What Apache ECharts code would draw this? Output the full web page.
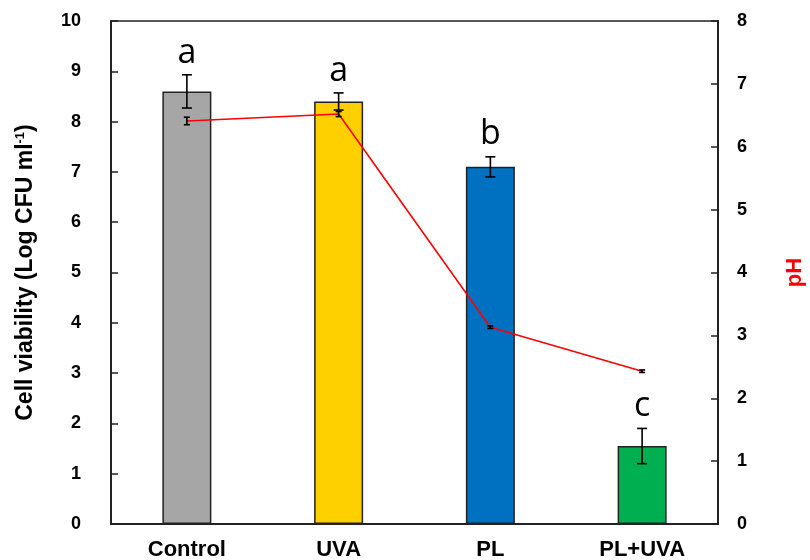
<!DOCTYPE html>
<html>
<head>
<meta charset="utf-8">
<script src="https://cdn.jsdelivr.net/npm/echarts@6/dist/echarts.min.js"></script>
<style>html,body{margin:0;padding:0;background:#fff}#c{width:810px;height:560px}</style>
</head>
<body>
<div id="c"></div>
<script>
const categories = ['Control', 'UVA', 'PL', 'PL+UVA'];
const viability = [8.6, 8.4, 7.1, 1.55];
const viabilityErr = [0.33, 0.17, 0.2, 0.35];
const ph = [6.41, 6.52, 3.13, 2.43];
const phErr = [0.06, 0.04, 0.02, 0.02];
const letters = ['a', 'a', 'b', 'c'];
const leftTicks = [0, 10, 1];
const rightTicks = [0, 8, 1];

const barColors = ['#A6A6A6', '#FFD000', '#0070C0', '#00B050'];
const chart = echarts.init(document.getElementById('c'), null, {renderer: 'canvas'});

const errData = (vals, errs) => vals.map((v, i) => [i, v - errs[i], v + errs[i], letters[i]]);

function makeErr(capW, withLetters) {
  return function (params, api) {
    const lo = api.coord([api.value(0), api.value(1)]);
    const hi = api.coord([api.value(0), api.value(2)]);
    const x = lo[0];
    const st = {stroke: '#000', lineWidth: 1.6};
    const ch = [
      {type: 'line', shape: {x1: x, y1: lo[1], x2: x, y2: hi[1]}, style: st},
      {type: 'line', shape: {x1: x - capW, y1: lo[1], x2: x + capW, y2: lo[1]}, style: st},
      {type: 'line', shape: {x1: x - capW, y1: hi[1], x2: x + capW, y2: hi[1]}, style: st}
    ];
    if (withLetters) {
      ch.push({type: 'text', x: x, y: hi[1] - 5, style: {
        text: api.value(3), fill: '#000', font: '34px "Open Sans", sans-serif',
        textAlign: 'center', textVerticalAlign: 'bottom'}});
    }
    return {type: 'group', children: ch};
  };
}

const tickFont = {fontFamily: 'Liberation Sans', fontWeight: 'bold', fontSize: 18, color: '#000'};
const catFont = {fontFamily: 'Liberation Sans', fontWeight: 'bold', fontSize: 22, color: '#000'};

chart.setOption({
  animation: false,
  grid: {left: 111, right: 92, top: 21, bottom: 36, outerBoundsMode: 'none', containLabel: false,
    show: true, borderColor: '#222', borderWidth: 1.5, backgroundColor: 'transparent'},
  xAxis: {
    type: 'category', data: categories,
    axisLine: {lineStyle: {color: '#222', width: 2}},
    axisTick: {show: false},
    axisLabel: Object.assign({margin: 15}, catFont)
  },
  yAxis: [{
    type: 'value', min: leftTicks[0], max: leftTicks[1], interval: leftTicks[2],
    axisLine: {show: true, lineStyle: {color: '#222', width: 2}},
    axisTick: {show: true, inside: true, length: 7, lineStyle: {color: '#222', width: 1.5}},
    splitLine: {show: false},
    axisLabel: Object.assign({margin: 30}, tickFont),
    name: 'Cell viability (Log CFU ml{sup|-1})',
    nameLocation: 'middle', nameGap: 74,
    nameTextStyle: {fontFamily: 'Liberation Sans', fontWeight: 'bold', fontSize: 23, color: '#000',
      rich: {sup: {fontFamily: 'Liberation Sans', fontWeight: 'bold', fontSize: 13, color: '#000', verticalAlign: 'top', padding: [0, 0, 10, 0]}}}
  }, {
    type: 'value', min: rightTicks[0], max: rightTicks[1], interval: rightTicks[2], position: 'right',
    axisLine: {show: true, lineStyle: {color: '#222', width: 2}},
    axisTick: {show: true, inside: true, length: 7, lineStyle: {color: '#222', width: 1.5}},
    splitLine: {show: false},
    axisLabel: Object.assign({margin: 19}, tickFont),
    name: 'pH', nameLocation: 'middle', nameGap: 66,
    nameTextStyle: {fontFamily: 'Liberation Sans', fontWeight: 'bold', fontSize: 22, color: '#FF0000'}
  }],
  series: [{
    type: 'bar', data: viability.map((v, i) => ({value: v, itemStyle: {color: barColors[i]}})),
    barWidth: 49, itemStyle: {borderColor: '#222', borderWidth: 1.5}, z: 1
  }, {
    type: 'line', yAxisIndex: 1, data: ph, showSymbol: false, symbol: 'none',
    lineStyle: {color: '#FF0000', width: 1.6}, z: 3
  }, {
    type: 'custom', yAxisIndex: 0, data: errData(viability, viabilityErr),
    renderItem: makeErr(5, true), z: 5, encode: {x: 0, y: [1, 2]}
  }, {
    type: 'custom', yAxisIndex: 1, data: ph.map((v, i) => [i, v - phErr[i], v + phErr[i]]),
    renderItem: makeErr(3, false), z: 5, encode: {x: 0, y: [1, 2]}
  }]
});
</script>
</body>
</html>
